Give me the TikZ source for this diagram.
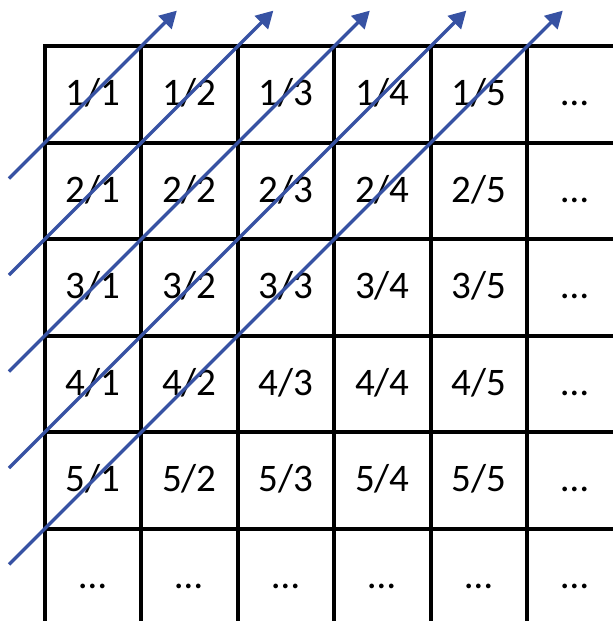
\documentclass[tikz,border=0pt]{standalone}
\usepackage{fontspec}
\setmainfont{Carlito}
\usepackage{tikz}
\usetikzlibrary{arrows.meta}
\definecolor{diagblue}{RGB}{55,82,163}

\begin{document}
\begin{tikzpicture}[
    gridline/.style={line width=1.18pt,line cap=rect},
    cell/.style={font=\fontsize{11.5}{13}\selectfont,text height=0.67em,text depth=0pt,inner sep=0pt},
    diag/.style={diagblue,line width=1pt,-{Triangle[length=5pt,width=5.4pt]}}]
    \useasboundingbox (-0.463,-5.956) rectangle (5.889,0.480);

    \draw[gridline] (0,0) -- (6.1,0);
    \draw[gridline] (0,-1) -- (6.1,-1);
    \draw[gridline] (0,-2) -- (6.1,-2);
    \draw[gridline] (0,-3) -- (6.1,-3);
    \draw[gridline] (0,-4) -- (6.1,-4);
    \draw[gridline] (0,-5) -- (6.1,-5);
    \draw[gridline] (0,0) -- (0,-6.1);
    \draw[gridline] (1,0) -- (1,-6.1);
    \draw[gridline] (2,0) -- (2,-6.1);
    \draw[gridline] (3,0) -- (3,-6.1);
    \draw[gridline] (4,0) -- (4,-6.1);
    \draw[gridline] (5,0) -- (5,-6.1);

    \node[cell] (c11) at (0.5,-0.5) {1/1};
    \node[cell] (c12) at (1.5,-0.5) {1/2};
    \node[cell] (c13) at (2.5,-0.5) {1/3};
    \node[cell] (c14) at (3.5,-0.5) {1/4};
    \node[cell] (c15) at (4.5,-0.5) {1/5};
    \node[cell] (c16) at (5.5,-0.5) {…};

    \node[cell] (c21) at (0.5,-1.5) {2/1};
    \node[cell] (c22) at (1.5,-1.5) {2/2};
    \node[cell] (c23) at (2.5,-1.5) {2/3};
    \node[cell] (c24) at (3.5,-1.5) {2/4};
    \node[cell] (c25) at (4.5,-1.5) {2/5};
    \node[cell] (c26) at (5.5,-1.5) {…};

    \node[cell] (c31) at (0.5,-2.5) {3/1};
    \node[cell] (c32) at (1.5,-2.5) {3/2};
    \node[cell] (c33) at (2.5,-2.5) {3/3};
    \node[cell] (c34) at (3.5,-2.5) {3/4};
    \node[cell] (c35) at (4.5,-2.5) {3/5};
    \node[cell] (c36) at (5.5,-2.5) {…};

    \node[cell] (c41) at (0.5,-3.5) {4/1};
    \node[cell] (c42) at (1.5,-3.5) {4/2};
    \node[cell] (c43) at (2.5,-3.5) {4/3};
    \node[cell] (c44) at (3.5,-3.5) {4/4};
    \node[cell] (c45) at (4.5,-3.5) {4/5};
    \node[cell] (c46) at (5.5,-3.5) {…};

    \node[cell] (c51) at (0.5,-4.5) {5/1};
    \node[cell] (c52) at (1.5,-4.5) {5/2};
    \node[cell] (c53) at (2.5,-4.5) {5/3};
    \node[cell] (c54) at (3.5,-4.5) {5/4};
    \node[cell] (c55) at (4.5,-4.5) {5/5};
    \node[cell] (c56) at (5.5,-4.5) {…};

    \node[cell] (c61) at (0.5,-5.5) {…};
    \node[cell] (c62) at (1.5,-5.5) {…};
    \node[cell] (c63) at (2.5,-5.5) {…};
    \node[cell] (c64) at (3.5,-5.5) {…};
    \node[cell] (c65) at (4.5,-5.5) {…};
    \node[cell] (c66) at (5.5,-5.5) {…};

    \coordinate (s1) at (-0.37,-1.37);
    \coordinate (s2) at (-0.37,-2.37);
    \coordinate (s3) at (-0.37,-3.37);
    \coordinate (s4) at (-0.37,-4.37);
    \coordinate (s5) at (-0.37,-5.37);
    \coordinate (t1) at (1.37,0.37);
    \coordinate (t2) at (2.37,0.37);
    \coordinate (t3) at (3.37,0.37);
    \coordinate (t4) at (4.37,0.37);
    \coordinate (t5) at (5.37,0.37);

    \draw[diag] (s1) -- (t1);
    \draw[diag] (s2) -- (t2);
    \draw[diag] (s3) -- (t3);
    \draw[diag] (s4) -- (t4);
    \draw[diag] (s5) -- (t5);
\end{tikzpicture}
\end{document}
